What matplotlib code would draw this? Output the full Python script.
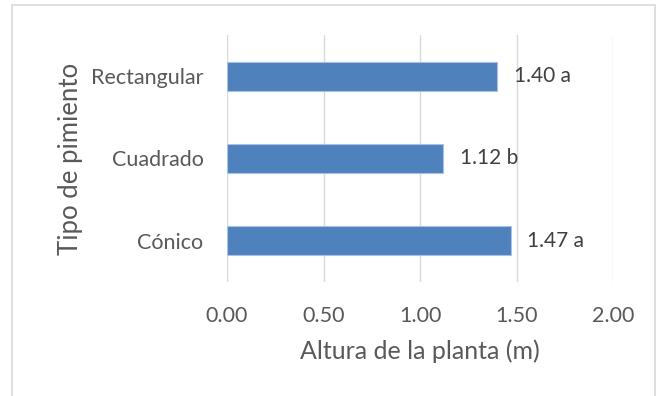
import matplotlib.pyplot as plt
from matplotlib.patches import Rectangle

tipos = ['Cónico', 'Cuadrado', 'Rectangular']
altura = [1.47, 1.12, 1.40]
letras = ['a', 'b', 'a']
xticks = [0.0, 0.5, 1.0, 1.5, 2.0]

plt.rcParams['font.family'] = ['Lato', 'DejaVu Sans']

fig = plt.figure(figsize=(6.65, 3.96), dpi=100)
ax = fig.add_axes([227/665, 1-282/396, 386/665, 247/396])

# marco gris del grafico
fig.patches.append(Rectangle((12/665, -0.1), 643/665, 1.1 - 5/396, transform=fig.transFigure,
                             fill=False, edgecolor='#d9d9d9', linewidth=1.2))

y = range(len(tipos))
bars = ax.barh(y, altura, height=0.35, color='#4f81bd', edgecolor='#a9c1e3', linewidth=0.8, zorder=3)
for b, v, l in zip(bars, altura, letras):
    ax.annotate(f'{v:.2f} {l}', (v, b.get_y() + b.get_height()/2), xytext=(12, 0),
                textcoords='offset points', va='center', ha='left', fontsize=15, color='#404040')

ax.set_xlim(0, 2.0)
ax.set_ylim(-0.5, 2.5)
ax.set_xticks(xticks)
ax.set_xticklabels([f'{t:.2f}' for t in xticks])
ax.set_yticks(list(y))
ax.set_yticklabels(tipos)
ax.tick_params(axis='both', length=0, labelsize=15.5, colors='#595959')
ax.tick_params(axis='y', pad=17)
ax.tick_params(axis='x', pad=17)
ax.xaxis.grid(True, color='#d9d9d9', linewidth=1.0, zorder=0)
for s in ax.spines.values():
    s.set_visible(False)

ax.set_xlabel('Altura de la planta (m)', fontsize=18, color='#595959', labelpad=10)
ax.set_ylabel('Tipo de pimiento', fontsize=18.5, color='#595959', labelpad=6)

fig.savefig('out.png', dpi=100)
